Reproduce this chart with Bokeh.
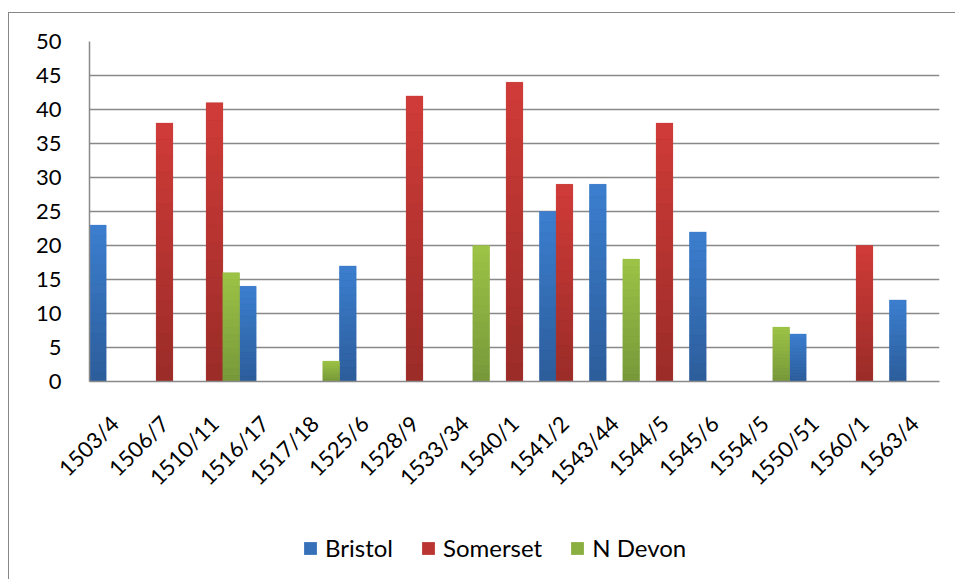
from bokeh.plotting import figure
from bokeh.layouts import column
from bokeh.models import (ColumnDataSource, FactorRange, Range1d, Legend, LegendItem,
                          FixedTicker)
from bokeh.transform import dodge
from bokeh.embed import file_html
from bokeh.resources import INLINE
import math

categories = ["1503/4", "1506/7", "1510/11", "1516/17", "1517/18", "1525/6", "1528/9",
              "1533/34", "1540/1", "1541/2", "1543/44", "1544/5", "1545/6", "1554/5",
              "1550/51", "1560/1", "1563/4"]
bristol  = [23, 0, 0, 14, 0, 17, 0, 0, 0, 25, 29, 0, 22, 0, 7, 0, 12]
somerset = [0, 38, 41, 0, 0, 0, 42, 0, 44, 29, 0, 38, 0, 0, 0, 20, 0]
n_devon  = [0, 0, 16, 0, 3, 0, 0, 20, 0, 0, 18, 0, 0, 8, 0, 0, 0]
series_names = ["Bristol", "Somerset", "N Devon"]
y_ticks = [0, 5, 10, 15, 20, 25, 30, 35, 40, 45, 50]

FONT = "Lato"
GRID = "#898989"
# top colour, bottom colour and flat colour per series
TOPS = ["#3c7ecf", "#d03c38", "#9dc346"]
BOTTOMS = ["#2c5d9a", "#9a2b28", "#77983a"]
MIDS = ["#3570b9", "#bb3632", "#8bae41"]


def mix(c1, c2, t):
    a = [int(c1[i:i + 2], 16) for i in (1, 3, 5)]
    b = [int(c2[i:i + 2], 16) for i in (1, 3, 5)]
    return "#%02x%02x%02x" % tuple(round(a[k] + (b[k] - a[k]) * t) for k in range(3))


src = ColumnDataSource(dict(cat=categories, bristol=bristol, somerset=somerset, n_devon=n_devon))

p = figure(x_range=FactorRange(*categories, range_padding=0), y_range=Range1d(0, 50),
           width=946, height=492, output_backend="svg", toolbar_location=None,
           min_border_left=80, min_border_right=16, min_border_top=28, min_border_bottom=124)

w = 1 / 3
N = 16
series = [bristol, somerset, n_devon]
cols = ["bristol", "somerset", "n_devon"]
for i, (c, vals) in enumerate(zip(cols, series)):
    xoff = dodge("cat", (i - 1) * w, range=p.x_range)
    p.vbar(x=xoff, top=c, width=w, source=src, fill_color=MIDS[i], line_color=None)
    # vertical gradient: each bar is split into slices, light at top, dark at bottom
    sl = dict(cat=[], b=[], t=[], col=[])
    for cat, v in zip(categories, vals):
        if v <= 0:
            continue
        for k in range(N):
            sl["cat"].append(cat)
            sl["b"].append(v * k / N)
            sl["t"].append(v * (k + 1) / N)
            sl["col"].append(mix(BOTTOMS[i], TOPS[i], (k + 0.5) / N))
    p.vbar(x=xoff, bottom="b", top="t", width=w, source=ColumnDataSource(sl),
           fill_color="col", line_color="col", line_width=0.3)

p.outline_line_color = None
p.xgrid.grid_line_color = None
p.ygrid.grid_line_color = GRID
p.ygrid.grid_line_width = 1.5
p.yaxis.ticker = FixedTicker(ticks=y_ticks)

for ax in (p.xaxis[0], p.yaxis[0]):
    ax.axis_line_color = GRID
    ax.axis_line_width = 1.5
    ax.major_tick_line_color = None
    ax.minor_tick_line_color = None
    ax.major_label_text_font = FONT
    ax.major_label_text_font_size = "22px"
    ax.major_label_text_color = "#000000"

p.yaxis.major_label_standoff = 22
p.xaxis.major_label_orientation = math.pi / 4
p.xaxis.major_label_standoff = 32

# legend panel below the chart
lg = figure(width=946, height=74, output_backend="svg", toolbar_location=None,
            x_axis_type=None, y_axis_type=None, x_range=Range1d(0, 1), y_range=Range1d(0, 1),
            min_border=0)
lg.outline_line_color = None
lg.xgrid.grid_line_color = None
lg.ygrid.grid_line_color = None
items = []
for name, col in zip(series_names, MIDS):
    r = lg.vbar(x=[0.5], top=[0], bottom=[0], width=0, fill_color=col, line_color=None)
    items.append(LegendItem(label=name, renderers=[r]))
legend = Legend(items=items, orientation="horizontal", location=(213, 17),
                label_text_font=FONT, label_text_font_size="24px", label_text_color="#000000",
                glyph_width=16, glyph_height=16, label_standoff=7, spacing=27,
                padding=0, margin=0, border_line_color=None, background_fill_alpha=0,
                label_height=20)
lg.add_layout(legend, "center")

layout = column(p, lg, spacing=0)
layout.styles = {"border-left": "1.5px solid #878787", "border-top": "1.5px solid #878787",
                 "margin-left": "8px", "margin-top": "12px"}

open("out.html", "w").write(file_html(layout, INLINE))
